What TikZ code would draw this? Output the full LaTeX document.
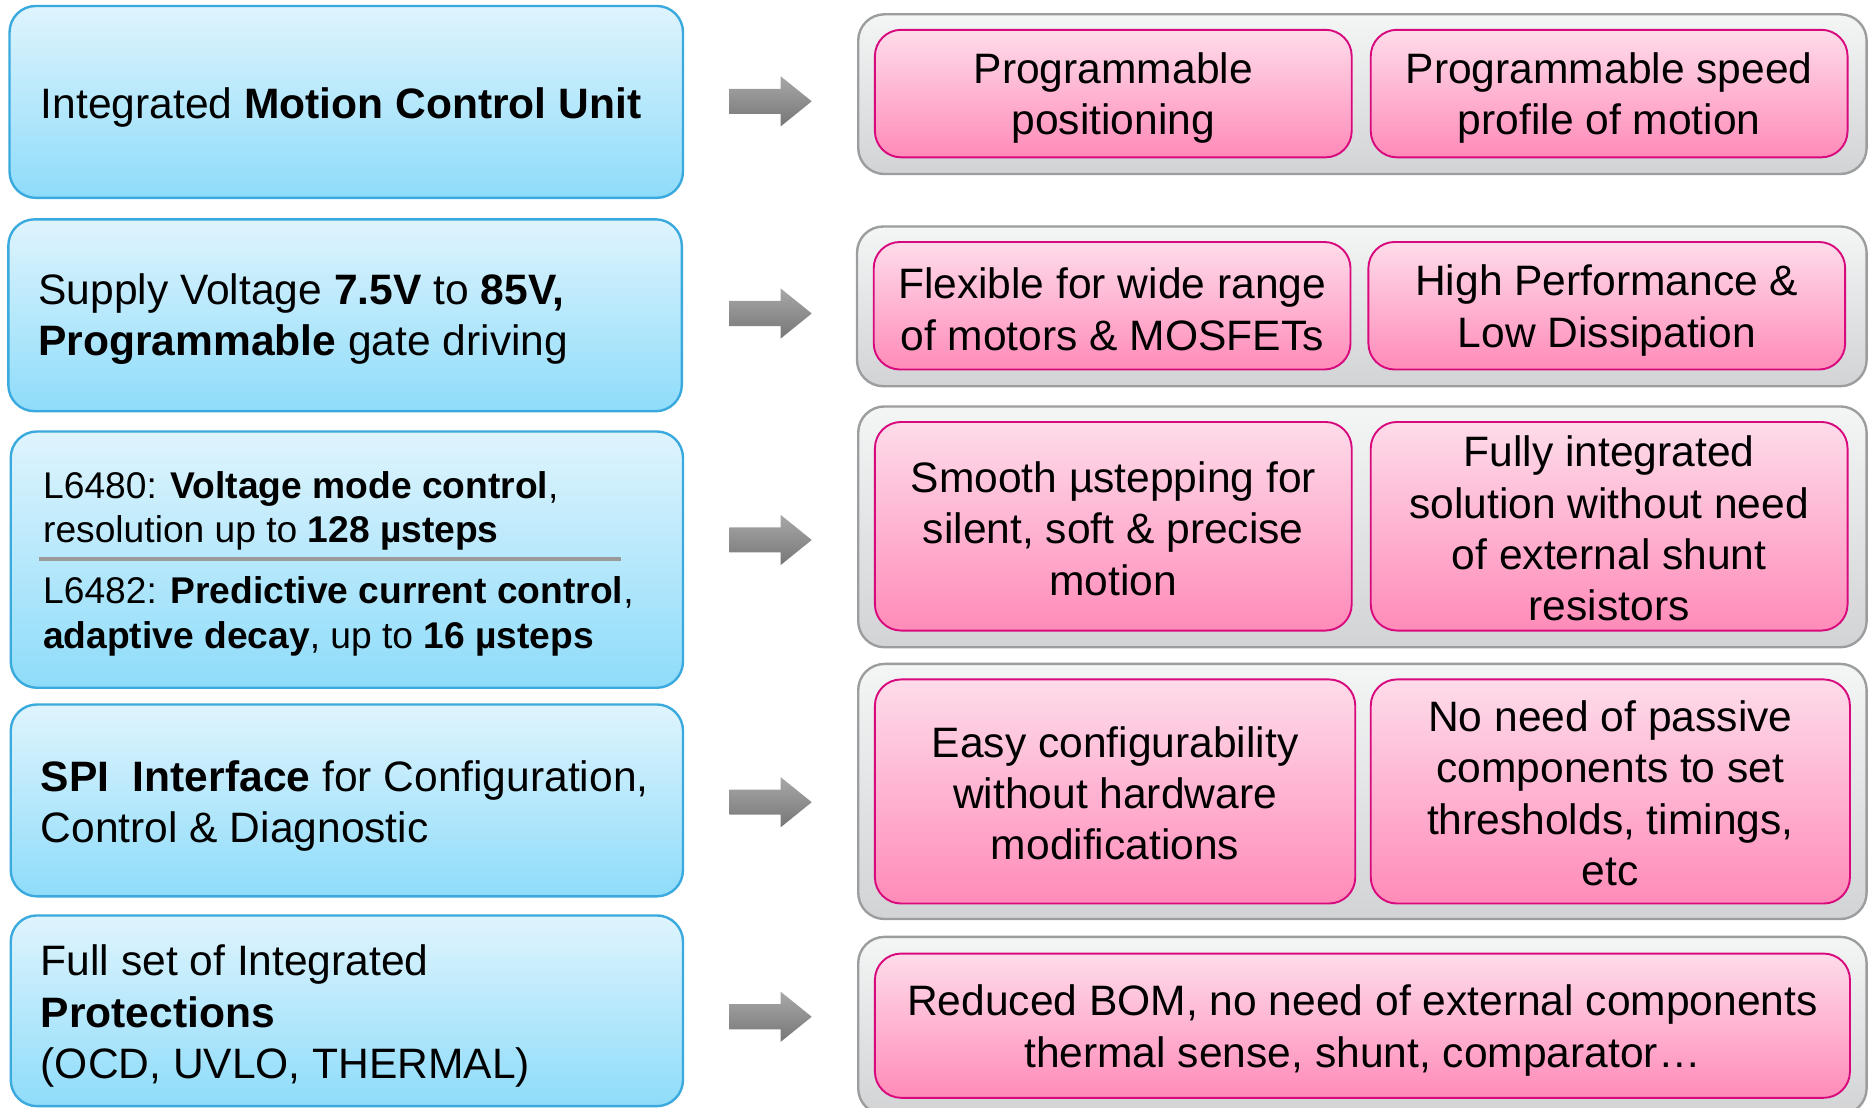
\documentclass[tikz,border=0pt]{standalone}
\usepackage{fontspec}
\setmainfont{Liberation Sans}
\usetikzlibrary{calc}
\definecolor{blueTop}{HTML}{DFF4FD}
\definecolor{blueBot}{HTML}{8EDCFA}
\definecolor{blueLine}{HTML}{3AA9DD}
\definecolor{pinkTop}{HTML}{FEDCEA}
\definecolor{pinkBot}{HTML}{FF8BB9}
\definecolor{pinkLine}{HTML}{D8097D}
\definecolor{grayTop}{HTML}{F4F5F5}
\definecolor{grayBot}{HTML}{D2D3D5}
\definecolor{grayLine}{HTML}{9C9D9F}
\definecolor{arrTop}{HTML}{A8A8A8}
\definecolor{arrBot}{HTML}{767676}
\definecolor{sepGray}{HTML}{9A9A9A}
\newcommand\mainsz{\fontsize{35.7pt}{43pt}\selectfont}
\newcommand\smallsz{\fontsize{31.2pt}{37.5pt}\selectfont}
\begin{document}
\begin{tikzpicture}[x=1pt,y=-1pt,
  leftbox/.style={draw=blueLine, line width=2pt, rounded corners=22pt,
    top color=blueTop, bottom color=blueBot, inner sep=0pt},
  graybox/.style={draw=grayLine, line width=2pt, rounded corners=22pt,
    top color=grayTop, bottom color=grayBot, inner sep=0pt},
  pinkbox/.style={draw=pinkLine, line width=1.6pt, rounded corners=22pt,
    top color=pinkTop, bottom color=pinkBot, inner sep=0pt},
  pinktext/.style={align=center, font=\mainsz, inner sep=0pt},
  lefttext/.style={anchor=west, align=left, font=\mainsz, inner sep=0pt},
  lefttextsmall/.style={lefttext, font=\smallsz},
  blockarrow/.style={top color=arrTop, bottom color=arrBot, draw=none},
  sepline/.style={draw=sepGray, line width=4pt}]
\useasboundingbox (0,0) rectangle (1568,929);

% feature boxes on the left
\node[leftbox, minimum width=565pt, minimum height=161pt] (L1) at (290.5,85.5) {};
\node[leftbox, minimum width=565pt, minimum height=161pt] (L2) at (289.5,264.5) {};
\node[leftbox, minimum width=564pt, minimum height=215pt] (L3) at (291,469.5) {};
\node[leftbox, minimum width=564pt, minimum height=161pt] (L4) at (291,671.5) {};
\node[leftbox, minimum width=564pt, minimum height=160pt] (L5) at (291,848) {};

\node[lefttext] (T1) at (34,90) {Integrated \textbf{Motion Control Unit}};
\node[lefttext] (T2) at (32,268) {Supply Voltage \textbf{7.5V} to \textbf{85V,}\\\textbf{Programmable} gate driving};
\node[lefttextsmall] (T3a) at (36,428.5) {L6480: \textbf{Voltage mode control},\\resolution up to \textbf{128 µsteps}};
\coordinate (S1) at (33,469);
\coordinate (S2) at (521,469);
\draw[sepline] (S1) -- (S2);
\node[lefttextsmall] (T3b) at (36,517) {L6482: \textbf{Predictive current control},\\\textbf{adaptive decay}, up to \textbf{16 µsteps}};
\node[lefttext] (T4) at (34,676) {\textbf{SPI\ \ Interface} for Configuration,\\Control \& Diagnostic};
\node[lefttext] (T5) at (34,852.5) {Full set of Integrated\\\textbf{Protections}\\(OCD, UVLO, THERMAL)};

% grey containers on the right
\node[graybox, minimum width=846pt, minimum height=134pt] (G1) at (1143,79) {};
\node[graybox, minimum width=847pt, minimum height=134pt] (G2) at (1142.5,257) {};
\node[graybox, minimum width=846pt, minimum height=202pt] (G3) at (1143,442) {};
\node[graybox, minimum width=846pt, minimum height=214pt] (G4) at (1143,664) {};
\node[graybox, minimum width=846pt, minimum height=149pt] (G5) at (1143,860.5) {};

% benefit boxes
\node[pinkbox, minimum width=400pt, minimum height=107pt] (P1a) at (934,78.5) {};
\node[pinkbox, minimum width=400pt, minimum height=107pt] (P1b) at (1350,78.5) {};
\node[pinkbox, minimum width=400pt, minimum height=107pt] (P2a) at (933,256.5) {};
\node[pinkbox, minimum width=400pt, minimum height=107pt] (P2b) at (1348,256.5) {};
\node[pinkbox, minimum width=400pt, minimum height=175pt] (P3a) at (934,441.5) {};
\node[pinkbox, minimum width=400pt, minimum height=175pt] (P3b) at (1350,441.5) {};
\node[pinkbox, minimum width=403pt, minimum height=188pt] (P4a) at (935.5,664) {};
\node[pinkbox, minimum width=402pt, minimum height=188pt] (P4b) at (1351,664) {};
\node[pinkbox, minimum width=818pt, minimum height=121pt] (P5) at (1143,860.5) {};

% benefit texts, set a little below each box centre
\node[pinktext] (Q1a) at ($(P1a.center)+(0,4)$) {Programmable\\positioning};
\node[pinktext] (Q1b) at ($(P1b.center)+(0,4)$) {Programmable speed\\profile of motion};
\node[pinktext] (Q2a) at ($(P2a.center)+(0,3)$) {Flexible for wide range\\of motors \& MOSFETs};
\node[pinktext] (Q2b) at ($(P2b.center)+(0,4)$) {High Performance \&\\Low Dissipation};
\node[pinktext] (Q3a) at ($(P3a.center)+(0,2)$) {Smooth µstepping for\\silent, soft \& precise\\motion};
\node[pinktext] (Q3b) at ($(P3b.center)+(0,2)$) {Fully integrated\\solution without need\\of external shunt\\resistors};
\node[pinktext] (Q4a) at ($(P4a.center)+(0,1.5)$) {Easy configurability\\without hardware\\modifications};
\node[pinktext] (Q4b) at ($(P4b.center)+(0,1.5)$) {No need of passive\\components to set\\thresholds, timings,\\etc};
\node[pinktext] (Q5) at ($(P5.center)+(0,4)$) {Reduced BOM, no need of external components\\thermal sense, shunt, comparator…};

% block arrows between the columns
\foreach \n/\yy in {1/85, 2/263, 3/453, 4/673, 5/853} {
  \coordinate (A\n) at (646.5,\yy);
  \path[blockarrow, shift={(A\n)}]
    (-34.5,-10.5) -- (8.5,-10.5) -- (8.5,-21) -- (34.5,0) -- (8.5,21)
    -- (8.5,10.5) -- (-34.5,10.5) -- cycle;
}
\end{tikzpicture}
\end{document}
